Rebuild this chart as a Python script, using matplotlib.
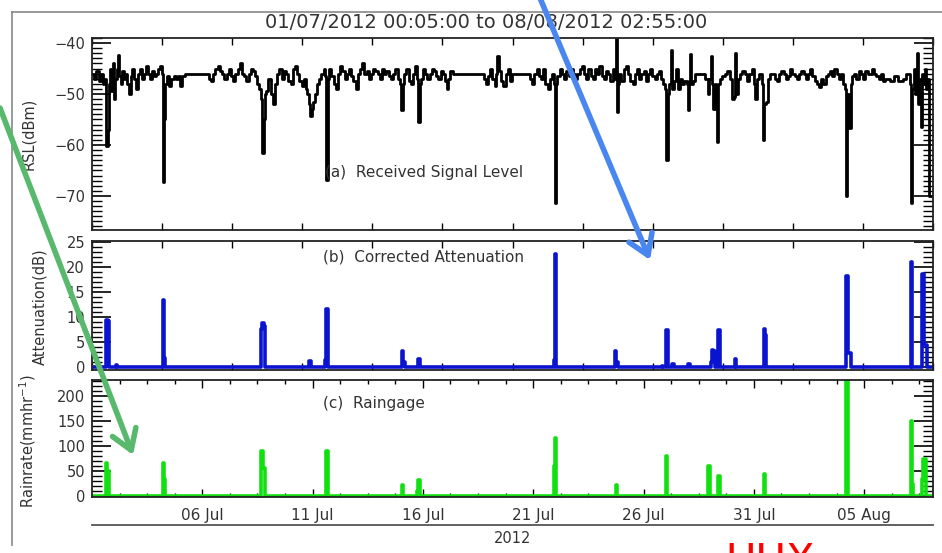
import matplotlib
matplotlib.use("Agg")
import numpy as np
import matplotlib.pyplot as plt
from matplotlib.lines import Line2D
from matplotlib.patches import FancyArrowPatch
from matplotlib.ticker import MultipleLocator, FixedLocator, NullLocator

W, H = 942, 553

# time axis: days since 01 Jul 2012 00:00
t_start, t_end = 0.0035, 38.118
date_ticks = [5, 10, 15, 20, 25, 30, 35]
date_labels = ['06 Jul', '11 Jul', '16 Jul', '21 Jul', '26 Jul', '31 Jul', '05 Aug']

# (a) received signal level, dBm (step series)
rsl_t = [0.0035, 0.10, 0.20, 0.30, 0.40, 0.50, 0.58, 0.63, 0.66, 0.71, 0.76, 0.82, 0.88, 0.95, 1.00, 1.05, 1.12, 1.17, 1.21, 1.30, 1.38, 1.45,
         1.52, 1.60, 1.68, 1.75, 1.82, 1.90, 2.00, 2.10, 2.18, 2.25, 2.35, 2.45, 2.55, 2.65, 2.72, 2.80, 2.90, 3.00, 3.10, 3.18,
         3.24, 3.28, 3.32, 3.40, 3.50, 3.60, 3.70, 3.80, 3.90, 4.00, 4.10, 4.20,
         5.30, 5.40, 5.50, 5.60, 5.70, 5.80, 5.90, 6.00, 6.10, 6.20, 6.30, 6.40, 6.50, 6.60, 6.70, 6.80, 6.90, 7.00, 7.10, 7.20, 7.30, 7.40, 7.50, 7.58,
         7.66, 7.72, 7.78, 7.84, 7.90, 8.00, 8.10, 8.20, 8.30, 8.40, 8.50,
         8.60, 8.70, 8.80, 8.90, 9.00, 9.10, 9.20, 9.30, 9.40, 9.50, 9.60, 9.68,
         9.75, 9.82, 9.90, 9.96, 10.02, 10.10, 10.20, 10.30, 10.40, 10.50, 10.58, 10.63, 10.68,
         10.75, 10.85, 10.95, 11.05, 11.15, 11.25, 11.35, 11.45, 11.55, 11.65, 11.75, 11.85, 11.95, 12.05, 12.15, 12.25,
         12.35, 12.45, 12.55, 12.65, 12.75, 12.85, 12.95, 13.05, 13.15, 13.25, 13.35, 13.45, 13.55, 13.65, 13.75,
         13.85, 13.95, 14.03, 14.08, 14.14, 14.25, 14.35, 14.45, 14.55, 14.65, 14.74, 14.80, 14.85, 14.92, 15.00, 15.10, 15.20,
         15.30, 15.40, 15.50, 15.60, 15.70, 15.80, 15.90, 16.00, 16.08, 16.15, 16.25, 16.35,
         17.75, 17.85, 17.95, 18.05, 18.15, 18.25, 18.33, 18.38, 18.43, 18.55, 18.65, 18.75, 18.85, 18.95, 19.05,
         19.85, 19.95, 20.05, 20.15, 20.25, 20.35, 20.45, 20.55, 20.65, 20.75, 20.85, 20.93, 20.99, 21.04, 21.10, 21.20,
         21.30, 21.40, 21.50, 21.60, 21.70, 21.80, 21.90,
         22.00, 22.10, 22.20, 22.30, 22.40, 22.50, 22.60, 22.70, 22.80, 22.90, 23.00, 23.10, 23.20, 23.30, 23.40, 23.50,
         23.60, 23.68, 23.75, 23.79, 23.84,
         23.90, 24.00, 24.10, 24.20, 24.30, 24.40, 24.50, 24.60, 24.70, 24.80, 24.90, 25.00, 25.10, 25.20, 25.30, 25.40,
         25.50, 25.60, 25.70, 25.80, 25.90,
         25.98, 26.03, 26.09, 26.17, 26.24, 26.29, 26.36, 26.45, 26.55, 26.65,
         26.75, 26.85, 26.95, 27.02, 27.07, 27.11, 27.16, 27.25, 27.35, 27.45,
         27.80, 27.90, 27.98, 28.05, 28.10, 28.16, 28.22, 28.30, 28.34, 28.39, 28.47, 28.57, 28.67,
         28.80, 28.90, 29.00, 29.08, 29.13, 29.18, 29.28, 29.38, 29.48,
         29.60, 29.70, 29.80, 29.90, 30.00, 30.06, 30.15, 30.25, 30.35, 30.42, 30.47, 30.55, 30.65, 30.75,
         30.85, 30.95, 31.05, 31.15, 31.25, 31.35, 31.45, 31.55, 31.65, 31.75, 31.85, 31.95, 32.05, 32.15, 32.25, 32.35,
         32.45, 32.55, 32.65, 32.75, 32.85, 32.95, 33.05, 33.15, 33.25,
         33.35, 33.45, 33.55, 33.65, 33.75, 33.85, 33.95, 34.05, 34.12, 34.19, 34.24, 34.30, 34.38, 34.46,
         34.55, 34.65, 34.75, 34.85, 34.95, 35.05, 35.15, 35.25, 35.35, 35.45, 35.55, 35.65, 35.75, 35.85, 35.95, 36.15,
         36.35, 36.55, 36.75, 36.90, 37.00,
         37.08, 37.13, 37.18, 37.26, 37.32, 37.38, 37.44, 37.50, 37.56, 37.62, 37.68, 37.74, 37.80, 37.88, 37.95, 38.118]
rsl_v = [-46, -47, -45.5, -47.5, -46, -48, -47, -52, -60.3, -57, -48, -45, -49.5, -44, -51, -47, -45, -42.3, -46.5, -48, -45.5, -47,
         -46, -48, -50, -46.5, -45, -47, -49, -46, -45, -47, -46, -44.5, -46, -47, -45.5, -46.5, -46, -45, -44.5, -46,
         -67.2, -55, -48, -46.5, -48.5, -47, -46.5, -47, -46.5, -48.5, -46.5, -46,
         -47, -47.5, -46, -45, -44.5, -45.5, -46, -47, -46, -45, -46.5, -47.5, -46, -45, -44, -46, -46.5, -47.5, -46, -45, -45.5, -46.5, -48, -49,
         -51, -61.6, -55, -50, -49.5, -47, -50, -52, -48, -46, -45,
         -47, -45.5, -46, -47.5, -48, -45, -44.5, -46, -47.5, -48.5, -47, -49,
         -50, -52, -54.4, -53, -51.5, -50, -48, -47, -46, -45, -46.5, -66.9, -47,
         -45, -46.5, -48, -49, -46, -44.5, -45.5, -47, -46, -45, -46.5, -47.5, -49, -46, -45, -44,
         -46, -45.5, -47, -46, -45, -45.5, -46, -47, -45, -46, -45.5, -46.5, -47, -46, -45,
         -47, -48, -53.1, -48, -46, -45, -47.5, -48, -46, -44.5, -47, -55.5, -48, -47, -45, -46, -47,
         -46, -45, -45.5, -46.5, -47, -45.5, -46, -47.5, -49, -47, -45.5, -46,
         -47, -48, -46.5, -45, -47, -48.5, -46, -42.5, -45.5, -47.5, -48.5, -46, -45, -47.5, -46,
         -47, -48, -46, -45, -46.5, -47, -45, -48, -49, -47, -46, -48, -71.4, -48, -46.5, -45,
         -46, -47, -45.5, -46.5, -45, -46, -47,
         -46, -45, -44.5, -46, -47, -45, -46.5, -47, -45, -46, -44.5, -46.5, -47, -45.5, -46, -47.5,
         -45, -47, -39, -53.6, -48,
         -46, -47.5, -45, -44.5, -46, -47.5, -48, -46, -45, -47, -46, -45.5, -47.5, -46, -45, -46.5,
         -47, -46, -45.5, -47, -48,
         -49, -62.9, -50, -48, -41.4, -49, -47.5, -45, -49, -47,
         -48, -47.5, -48, -53.1, -47.5, -42.2, -48, -47.5, -46, -46,
         -47, -49.9, -47, -42.5, -48, -52.9, -48, -49, -59.4, -48, -47, -46.5, -46,
         -45.5, -47, -51, -50.5, -42, -50, -47, -46, -45.5,
         -46, -47.5, -46, -45, -48, -51, -47, -46, -48, -59.1, -52, -51.5, -47, -46,
         -46, -47, -47.5, -46, -45.5, -46, -47, -46.5, -45, -46, -46.5, -47, -46, -45.5, -46, -47,
         -46, -45, -46.5, -47.5, -48, -48.7, -47, -48, -46.5,
         -46, -45.5, -46.5, -45, -46, -47, -46, -48, -49, -70.1, -50, -56.6, -48, -46.5,
         -46, -47, -45.5, -46, -47, -45.5, -46, -46, -45, -46, -46.5, -47, -46, -47.5, -47, -47.5,
         -46.5, -47.5, -47, -46, -46,
         -48, -71.4, -49, -45, -50, -42, -52, -47, -56.5, -46, -48, -45, -49, -47, -70, -70]

# (b) corrected attenuation, dB
att_t = [0.0035, 0.62, 0.66, 0.72, 0.79, 1.08, 1.13, 3.22, 3.27, 3.33, 7.68, 7.73, 7.78, 7.83, 9.86, 9.92,
         10.58, 10.62, 10.70, 14.06, 14.11, 14.17, 14.80, 14.86, 20.94, 20.98, 21.04, 23.71, 23.76, 23.86,
         25.84, 25.90, 26.00, 26.03, 26.10, 26.28, 26.36, 27.03, 27.10, 28.04, 28.08, 28.14, 28.22, 28.38, 28.46,
         29.15, 29.21, 30.45, 30.50, 30.55, 34.16, 34.27, 34.38, 37.12, 37.17, 37.62, 37.70, 37.85, 38.118]
att_v = [0, 6.0, 9.5, 9.2, 0, 0.5, 0, 13.4, 1.8, 0, 7.7, 8.8, 8.2, 0, 1.2, 0,
         1.5, 11.6, 0, 3.2, 1.0, 0, 1.6, 0, 1.5, 22.7, 0, 3.2, 1.0, 0,
         0.3, 0, 1.6, 7.5, 0, 0.6, 0, 0.6, 0, 1.1, 3.5, 3.3, 0, 7.4, 0,
         1.6, 0, 7.7, 6.5, 0, 18.3, 2.8, 0, 21.1, 0, 18.7, 4.5, 0, 0]

# (c) raingage rain rate, mm/h
rain_t = [0.0035, 0.64, 0.70, 0.78, 3.22, 3.28, 3.33, 7.68, 7.76, 7.83, 10.60, 10.68, 14.06, 14.12, 14.74, 14.79, 14.86,
          20.94, 20.99, 21.04, 23.74, 23.80, 26.00, 26.08, 27.94, 27.99, 28.38, 28.45, 30.45, 30.52,
          34.16, 34.26, 37.10, 37.16, 37.22, 37.60, 37.66, 37.80, 38.118]
rain_v = [0, 65, 49, 0, 66, 33, 0, 89, 56, 0, 89, 0, 21, 0, 9, 31, 0,
          59, 116, 0, 21, 0, 79, 0, 59, 0, 39, 0, 44, 0,
          230, 0, 149, 23, 0, 33, 73, 0, 0]

txt = '#333333'
plt.rcParams['font.family'] = 'DejaVu Sans'


def px(x, y):
    return x / W, 1 - y / H


def style_axis(ax, ymajor, yminor):
    for s in ax.spines.values():
        s.set_color('#222222')
        s.set_linewidth(1.3)
    ax.yaxis.set_major_locator(MultipleLocator(ymajor))
    ax.yaxis.set_minor_locator(MultipleLocator(yminor))
    ax.tick_params(axis='y', which='major', direction='in', length=14, width=1.2,
                   left=True, right=True, labelsize=10.5, labelcolor=txt, pad=5)
    ax.tick_params(axis='y', which='minor', direction='in', length=7, width=1.0, left=True, right=True)
    ax.tick_params(axis='x', which='both', direction='in', top=True, bottom=True, width=1.0)
    ax.set_xlim(t_start, t_end)


fig = plt.figure(figsize=(W / 100, H / 100), dpi=100)
left, width = 92 / W, 841 / W
ax_a = fig.add_axes([left, 1 - 230 / H, width, 192 / H])
ax_b = fig.add_axes([left, 1 - 370 / H, width, 129 / H])
ax_c = fig.add_axes([left, 1 - 497 / H, width, 117 / H])

# (a)
ax_a.step(rsl_t, rsl_v, where='post', color='black', lw=2.0)
ax_a.set_ylim(-76.7, -39.0)
style_axis(ax_a, 10, 1)
ax_a.set_yticks([-70, -60, -50, -40])
ax_a.set_yticklabels(['\u221270', '\u221260', '\u221250', '\u221240'])
ax_a.text(0.277, 0.30, '(a)  Received Signal Level', transform=ax_a.transAxes,
          fontsize=11, color=txt, va='center')
ax_a.set_ylabel('RSL(dBm)', fontsize=10.5, color=txt)
ax_a.yaxis.set_label_coords(-0.067, 0.5)

# (b)
ax_b.step(att_t, att_v, where='post', color='#0a14d0', lw=2.6)
ax_b.set_ylim(-0.5, 25.2)
style_axis(ax_b, 5, 1)
ax_b.text(0.275, 0.876, '(b)  Corrected Attenuation', transform=ax_b.transAxes,
          fontsize=11, color=txt, va='center')
ax_b.set_ylabel('Attenuation(dB)', fontsize=10.5, color=txt)
ax_b.yaxis.set_label_coords(-0.053, 0.49)

# (c)
ax_c.step(rain_t, rain_v, where='post', color='#10e010', lw=2.6)
ax_c.set_ylim(-3, 232)
style_axis(ax_c, 50, 10)
ax_c.text(0.275, 0.795, '(c)  Raingage', transform=ax_c.transAxes,
          fontsize=11, color=txt, va='center')
ax_c.set_ylabel('Rainrate(mmhr$^{-1}$)', fontsize=10.5, color=txt)
ax_c.yaxis.set_label_coords(-0.064, 0.48)

# x ticks: top panels divided in 12 intervals, bottom panel by date
grid12 = np.linspace(t_start, t_end, 13)
for ax in (ax_a, ax_b):
    ax.xaxis.set_major_locator(FixedLocator(grid12))
    ax.xaxis.set_minor_locator(NullLocator())
    ax.tick_params(axis='x', which='major', length=5, labelbottom=False)
ax_c.set_xticks(date_ticks)
ax_c.set_xticklabels(date_labels)
ax_c.xaxis.set_minor_locator(MultipleLocator(1.25))
ax_c.tick_params(axis='x', which='major', length=6, labelsize=11, labelcolor=txt, pad=8)
ax_c.tick_params(axis='x', which='minor', length=3)

# year axis below
ax_y = fig.add_axes([left, 1 - 525 / H, width, 0.0001])
ax_y.set_xlim(t_start, t_end)
for k in ('top', 'left', 'right'):
    ax_y.spines[k].set_visible(False)
ax_y.spines['bottom'].set_color('#555555')
ax_y.spines['bottom'].set_linewidth(1.3)
ax_y.set_xticks([])
ax_y.set_yticks([])
ax_y.set_xlabel('2012', fontsize=10.5, color=txt, labelpad=4)

fig.text(*px(486, 22), '01/07/2012 00:05:00 to 08/08/2012 02:55:00',
         ha='center', va='center', fontsize=14, color=txt)

# window frame
fig.add_artist(Line2D([12 / W, 12 / W], [1 - 12 / H, 1 - 545 / H], color='#888888', lw=1.2))
fig.add_artist(Line2D([12 / W, 1], [1 - 12 / H, 1 - 12 / H], color='#888888', lw=1.2))

# slide annotations on top of the chart
arrow = '->,head_length=0.7,head_width=0.45'
fig.add_artist(FancyArrowPatch(px(0, 108), px(133, 455), transform=fig.transFigure,
                               arrowstyle=arrow, color='#58b96c', lw=4,
                               mutation_scale=20, shrinkA=0, shrinkB=0, zorder=10))
fig.add_artist(FancyArrowPatch(px(540, -2), px(650, 260), transform=fig.transFigure,
                               arrowstyle=arrow, color='#4a86f0', lw=4,
                               mutation_scale=20, shrinkA=0, shrinkB=0, zorder=10))
fig.text(*px(770, 541), 'UUX', ha='center', va='top', fontsize=30, color='#ff0000')

fig.savefig('out.png', dpi=100)
